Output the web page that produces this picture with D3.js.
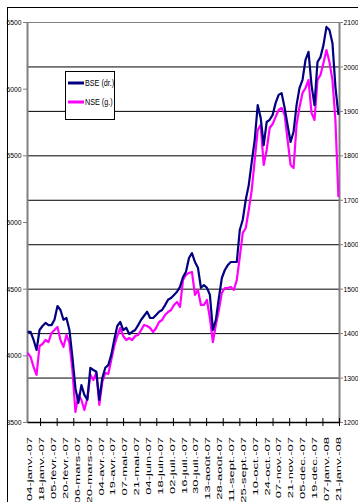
<!DOCTYPE html>
<html>
<head>
<meta charset="utf-8">
<script src="https://cdn.jsdelivr.net/npm/d3@7"></script>
<style>
  body { margin: 0; background: #fff; }
  svg { display: block; }
  text { font-family: "Liberation Sans", Arial, sans-serif; fill: #000; }
</style>
</head>
<body>
<svg id="chart" width="358" height="502"></svg>
<script>
// Category labels: one every 10 trading sessions
const dateLabels = [
  "04-janv.-07", "18-janv.-07", "05-févr.-07", "20-févr.-07", "06-mars-07", "20-mars-07",
  "04-avr.-07", "19-avr.-07", "07-mai-07", "21-mai-07", "04-juin-07", "18-juin-07",
  "02-juil.-07", "16-juil.-07", "30-juil.-07", "13-août-07", "28-août-07", "11-sept.-07",
  "25-sept.-07", "10-oct.-07", "24-oct.-07", "07-nov.-07", "21-nov.-07", "05-déc.-07",
  "19-déc.-07", "07-janv.-08", "21-janv.-08"
];

// NSE index (left axis), sampled evenly over the period
const nse = [
  4018, 3988, 3913, 3853, 4070, 4085, 4115, 4100, 4168, 4190,
  4213, 4115, 4063, 4153, 4093, 3890, 3575, 3703, 3665, 3590,
  3680, 3853, 3815, 3868, 3628, 3800, 3868, 3860, 3965, 4070,
  4145, 4205, 4145, 4115, 4130, 4115, 4145, 4153, 4190, 4228,
  4220, 4205, 4175, 4205, 4250, 4265, 4303, 4325, 4340, 4378,
  4400, 4363, 4565, 4603, 4618, 4625, 4453, 4490, 4378, 4378,
  4415, 4280, 4100, 4228, 4340, 4468, 4505, 4505, 4513, 4490,
  4565, 4738, 4918, 4955, 5090, 5240, 5465, 5690, 5728, 5428,
  5540, 5705, 5735, 5788, 5840, 5855, 5803, 5615, 5428, 5405,
  5728, 5863, 5968, 6005, 6065, 5818, 5765, 6065, 6103, 6193,
  6290, 6200, 6065, 5765, 5188
];

// BSE index (right axis), same sampling
const bse = [
  1403, 1403, 1385, 1362, 1407, 1416, 1423, 1418, 1418, 1430,
  1461, 1452, 1430, 1434, 1407, 1346, 1276, 1243, 1283, 1261,
  1250, 1322, 1317, 1313, 1250, 1299, 1322, 1328, 1351, 1385,
  1416, 1425, 1407, 1412, 1398, 1403, 1407, 1418, 1430, 1439,
  1448, 1434, 1434, 1441, 1448, 1452, 1463, 1475, 1479, 1486,
  1493, 1504, 1526, 1538, 1569, 1580, 1560, 1547, 1502, 1508,
  1502, 1486, 1407, 1430, 1479, 1524, 1542, 1553, 1560, 1560,
  1560, 1632, 1655, 1700, 1733, 1785, 1835, 1913, 1884, 1823,
  1875, 1880, 1891, 1918, 1936, 1940, 1907, 1868, 1830, 1853,
  1913, 1952, 1970, 2015, 2033, 1958, 1913, 2010, 2021, 2048,
  2089, 2082, 2053, 1954, 1891
];

const leftTicks = [3500, 4000, 4500, 5000, 5500, 6000, 6500];
const rightTicks = [1200, 1300, 1400, 1500, 1600, 1700, 1800, 1900, 2000, 2100];
const seriesNames = ["BSE (dr.)", "NSE (g.)"];
const seriesColors = ["#000080", "#FF00FF"];

const svg = d3.select("#chart");
const P = { left: 27, right: 339, top: 22, bottom: 422 };
const nSessions = 263;

const yL = d3.scaleLinear().domain([3500, 6500]).range([P.bottom, P.top]);
const yR = d3.scaleLinear().domain([1200, 2100]).range([P.bottom, P.top]);
const xCat = d3.scaleLinear().domain([0, nSessions]).range([P.left, P.right]);
const xData = d3.scaleLinear().domain([0, nse.length - 1])
  .range([xCat(0.5), xCat(nSessions - 0.5)]);

// outer chart frame
svg.append("rect")
  .attr("x", 7.5).attr("y", 7.5).attr("width", 400).attr("height", 600)
  .attr("fill", "#fff").attr("stroke", "#000").attr("stroke-width", 1);

// horizontal gridlines on the right-hand scale
svg.append("g")
  .attr("transform", `translate(${P.right},0)`)
  .call(d3.axisLeft(yR).tickValues(rightTicks.slice(1, -1))
    .tickSize(P.right - P.left).tickSizeOuter(0).tickFormat(""))
  .call(g => g.select(".domain").remove())
  .call(g => g.selectAll("line").attr("stroke", "#000").attr("stroke-width", 1));

// plot area top edge
svg.append("line")
  .attr("x1", P.left).attr("x2", P.right).attr("y1", P.top + 0.5).attr("y2", P.top + 0.5)
  .attr("stroke", "#808080").attr("stroke-width", 1);

const sx = 0.85;

// left axis (NSE)
svg.append("g")
  .attr("transform", `translate(${P.left},0)`)
  .call(d3.axisLeft(yL).tickValues(leftTicks).tickSize(4).tickSizeOuter(0).tickFormat(d3.format("d")))
  .call(g => g.select(".domain").attr("stroke", "#808080").attr("stroke-width", 2))
  .call(g => g.selectAll("line").attr("stroke", "#808080"))
  .call(g => g.selectAll("text")
    .attr("x", -5.5 / sx).attr("transform", `scale(${sx},1)`)
    .attr("font-size", 8).attr("font-family", "Liberation Sans, Arial, sans-serif"));

// right axis (BSE)
svg.append("g")
  .attr("transform", `translate(${P.right},0)`)
  .call(d3.axisRight(yR).tickValues(rightTicks).tickSize(4).tickSizeOuter(0).tickFormat(d3.format("d")))
  .call(g => g.select(".domain").attr("stroke", "#808080").attr("stroke-width", 2))
  .call(g => g.selectAll("line").attr("stroke", "#808080"))
  .call(g => g.selectAll("text")
    .attr("x", 4.5 / sx).attr("transform", `scale(${sx},1)`)
    .attr("font-size", 8).attr("font-family", "Liberation Sans, Arial, sans-serif"));

// bottom category axis with crossing tick marks
const tickCats = d3.range(11, nSessions + 1, 14);
svg.append("g")
  .attr("transform", `translate(0,${P.bottom})`)
  .call(d3.axisBottom(xCat).tickValues(tickCats).tickSize(4).tickSizeOuter(0).tickFormat(""))
  .call(g => g.select(".domain").attr("stroke", "#000").attr("stroke-width", 1.5))
  .call(g => g.selectAll(".tick line").attr("y1", -4).attr("stroke", "#000"));

// rotated date labels
svg.append("g").selectAll("text")
  .data(dateLabels)
  .join("text")
  .attr("transform", (d, i) => `translate(${xCat(2 + 10 * i + 0.5) + 2.4},437) rotate(-90) scale(1,0.5)`)
  .attr("text-anchor", "end")
  .attr("font-size", 13)
  .text(d => d);

// series lines
const line = y => d3.line().x((d, i) => xData(i)).y(d => y(d));
svg.append("path").datum(nse)
  .attr("fill", "none").attr("stroke", seriesColors[1]).attr("stroke-width", 2.2)
  .attr("stroke-linejoin", "round").attr("d", line(yL));
svg.append("path").datum(bse)
  .attr("fill", "none").attr("stroke", seriesColors[0]).attr("stroke-width", 2.2)
  .attr("stroke-linejoin", "round").attr("d", line(yR));

// legend
const lg = svg.append("g").attr("transform", "translate(65.5,71.5)");
lg.append("rect").attr("width", 49).attr("height", 48)
  .attr("fill", "#fff").attr("stroke", "#000").attr("stroke-width", 1);
seriesNames.forEach((name, i) => {
  const y = 11.5 + i * 19;
  lg.append("line").attr("x1", 2.5).attr("x2", 18.5).attr("y1", y).attr("y2", y)
    .attr("stroke", seriesColors[i]).attr("stroke-width", 3);
  lg.append("text")
    .attr("transform", `translate(19.5,${y}) scale(${sx},1)`)
    .attr("dy", "0.35em").attr("font-size", 8.5)
    .text(name);
});
</script>
</body>
</html>
